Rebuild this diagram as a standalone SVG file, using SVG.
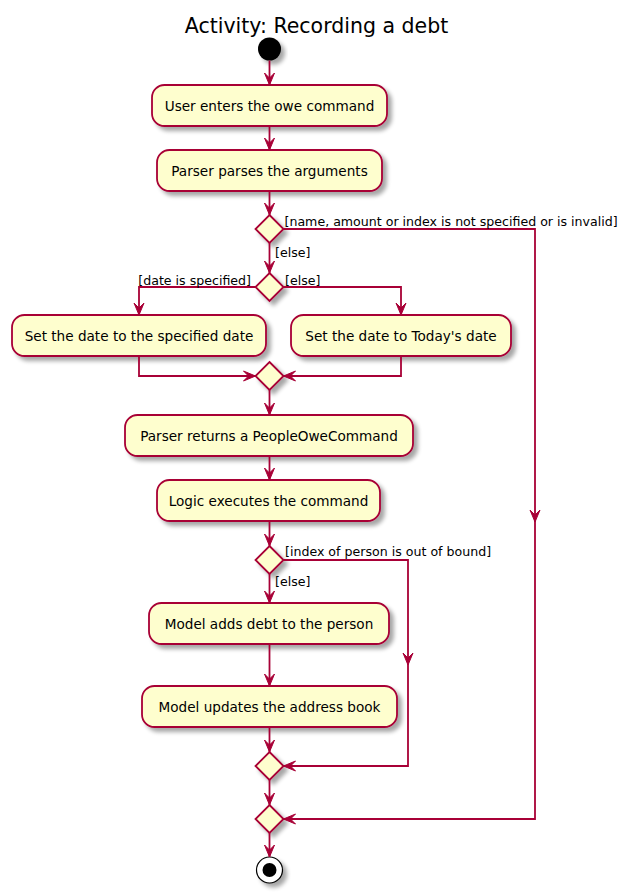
<svg xmlns="http://www.w3.org/2000/svg" width="634" height="895" viewBox="0 0 634 895">
<defs>
<filter id="sh" x="-20%" y="-20%" width="150%" height="160%">
<feGaussianBlur in="SourceAlpha" stdDeviation="2"/>
<feOffset dx="4" dy="4" result="b"/>
<feComponentTransfer><feFuncA type="linear" slope="0.35"/></feComponentTransfer>
<feMerge><feMergeNode/><feMergeNode in="SourceGraphic"/></feMerge>
</filter>
</defs>
<style>
.box{fill:#FEFECE;stroke:#A80036;stroke-width:1.8;filter:url(#sh)}
.dia{fill:#FEFECE;stroke:#A80036;stroke-width:1.8;filter:url(#sh)}
.ln{fill:none;stroke:#A80036;stroke-width:1.8}
.ah{fill:#A80036;stroke:#A80036;stroke-width:1}
.t{font-family:"DejaVu Sans",sans-serif;font-size:13.6px;fill:#000;text-anchor:middle}
.lb{font-family:"DejaVu Sans",sans-serif;font-size:12.6px;fill:#000}
.title{font-family:"DejaVu Sans",sans-serif;font-size:20.5px;fill:#000;text-anchor:middle}
</style>
<rect width="634" height="895" fill="#FFFFFF"/>
<text class="title" x="316.5" y="33">Activity: Recording a debt</text>

<g id="start"><circle cx="269.5" cy="49" r="11.5" fill="#000" filter="url(#sh)"/></g>

<g id="n1"><rect class="box" x="152" y="85" width="235" height="41" rx="12.5"/><text class="t" x="269.5" y="111">User enters the owe command</text></g>
<g id="n2"><rect class="box" x="157" y="150" width="225" height="41" rx="12.5"/><text class="t" x="269.5" y="176">Parser parses the arguments</text></g>
<g id="d1"><polygon class="dia" points="269.5,215 283.5,229 269.5,243 255.5,229"/></g>
<g id="d2"><polygon class="dia" points="269.5,273 283.5,287 269.5,301 255.5,287"/></g>
<g id="n3"><rect class="box" x="12" y="315" width="254" height="41" rx="12.5"/><text class="t" x="139" y="341">Set the date to the specified date</text></g>
<g id="n4"><rect class="box" x="291" y="315" width="220" height="41" rx="12.5"/><text class="t" x="401" y="341">Set the date to Today's date</text></g>
<g id="d3"><polygon class="dia" points="269.5,362 283.5,376 269.5,390 255.5,376"/></g>
<g id="n5"><rect class="box" x="125" y="415" width="288" height="41" rx="12.5"/><text class="t" x="269" y="441">Parser returns a PeopleOweCommand</text></g>
<g id="n6"><rect class="box" x="157" y="480" width="223" height="41" rx="12.5"/><text class="t" x="268.5" y="506">Logic executes the command</text></g>
<g id="d4"><polygon class="dia" points="269.5,546 283.5,560 269.5,574 255.5,560"/></g>
<g id="n7"><rect class="box" x="149" y="603" width="240" height="41" rx="12.5"/><text class="t" x="269" y="629">Model adds debt to the person</text></g>
<g id="n8"><rect class="box" x="142" y="686" width="255" height="41" rx="12.5"/><text class="t" x="269.5" y="712">Model updates the address book</text></g>
<g id="d5"><polygon class="dia" points="269.5,752 283.5,766 269.5,780 255.5,766"/></g>
<g id="d6"><polygon class="dia" points="269.5,805 283.5,819 269.5,833 255.5,819"/></g>
<g id="end"><circle cx="269.5" cy="870" r="13" fill="#FFFFFF" stroke="#000" stroke-width="1.2" filter="url(#sh)"/><circle cx="269.5" cy="870" r="7" fill="#000"/></g>

<g id="connectors">
<path class="ln" d="M269.5,60.5 V85"/>
<polygon class="ah" points="264.5,73 269.5,85 274.5,73 269.5,78"/>
<path class="ln" d="M269.5,126 V150"/>
<polygon class="ah" points="264.5,138 269.5,150 274.5,138 269.5,143"/>
<path class="ln" d="M269.5,191 V215"/>
<polygon class="ah" points="264.5,203 269.5,215 274.5,203 269.5,208"/>
<path class="ln" d="M269.5,243 V273"/>
<polygon class="ah" points="264.5,261 269.5,273 274.5,261 269.5,266"/>
<path class="ln" d="M255.5,287 H139 V315"/>
<polygon class="ah" points="134,303 139,315 144,303 139,308"/>
<path class="ln" d="M283.5,287 H401 V315"/>
<polygon class="ah" points="396,303 401,315 406,303 401,308"/>
<path class="ln" d="M139,356 V376 H255.5"/>
<polygon class="ah" points="243.5,371 255.5,376 243.5,381 248.5,376"/>
<path class="ln" d="M401,356 V376 H283.5"/>
<polygon class="ah" points="295.5,371 283.5,376 295.5,381 290.5,376"/>
<path class="ln" d="M269.5,390 V415"/>
<polygon class="ah" points="264.5,403 269.5,415 274.5,403 269.5,408"/>
<path class="ln" d="M269.5,456 V480"/>
<polygon class="ah" points="264.5,468 269.5,480 274.5,468 269.5,473"/>
<path class="ln" d="M269.5,521 V546"/>
<polygon class="ah" points="264.5,534 269.5,546 274.5,534 269.5,539"/>
<path class="ln" d="M269.5,574 V603"/>
<polygon class="ah" points="264.5,591 269.5,603 274.5,591 269.5,596"/>
<path class="ln" d="M269.5,644 V686"/>
<polygon class="ah" points="264.5,674 269.5,686 274.5,674 269.5,679"/>
<path class="ln" d="M269.5,727 V752"/>
<polygon class="ah" points="264.5,740 269.5,752 274.5,740 269.5,745"/>
<path class="ln" d="M269.5,780 V805"/>
<polygon class="ah" points="264.5,793 269.5,805 274.5,793 269.5,798"/>
<path class="ln" d="M269.5,833 V857"/>
<polygon class="ah" points="264.5,845 269.5,857 274.5,845 269.5,850"/>
<path class="ln" d="M283.5,560 H408 V766 H283.5"/>
<polygon class="ah" points="403,653 408,665 413,653 408,658"/>
<polygon class="ah" points="295.5,761 283.5,766 295.5,771 290.5,766"/>
<path class="ln" d="M283.5,229 H535 V819 H283.5"/>
<polygon class="ah" points="530,510 535,522 540,510 535,515"/>
<polygon class="ah" points="295.5,814 283.5,819 295.5,824 290.5,819"/>
<text class="lb" x="284.5" y="226">[name, amount or index is not specified or is invalid]</text>
<text class="lb" x="275" y="257">[else]</text>
<text class="lb" x="251" y="285" text-anchor="end">[date is specified]</text>
<text class="lb" x="285" y="285">[else]</text>
<text class="lb" x="285" y="556">[index of person is out of bound]</text>
<text class="lb" x="275" y="586">[else]</text>
</g>
</svg>
